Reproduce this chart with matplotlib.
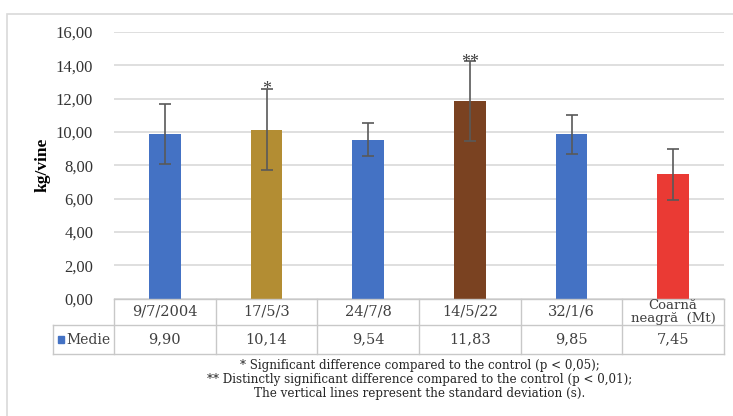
import numpy as np
import matplotlib
matplotlib.use("Agg")
import matplotlib.pyplot as plt
from matplotlib.patches import Rectangle

# data
categories = ["9/7/2004", "17/5/3", "24/7/8", "14/5/22", "32/1/6", "Coarnă\nneagră  (Mt)"]
means = [9.90, 10.14, 9.54, 11.83, 9.85, 7.45]
value_labels = ["9,90", "10,14", "9,54", "11,83", "9,85", "7,45"]
std_dev = [1.8, 2.45, 1.0, 2.4, 1.15, 1.55]
stars = ["", "*", "", "**", "", ""]
bar_colors = ["#4472C4", "#B38D33", "#4472C4", "#7A4221", "#4472C4", "#EA3A34"]
yticks = np.arange(0, 17, 2)

fig = plt.figure(figsize=(7.33, 4.16), dpi=100)
ax = fig.add_axes([114 / 733, 1 - 298.5 / 416, 610 / 733, 266.5 / 416])

x = np.arange(len(categories))
ax.bar(x, means, width=0.31, color=bar_colors, zorder=2)
ax.errorbar(x, means, yerr=std_dev, fmt="none", ecolor="#595959",
            elinewidth=1.2, capsize=4, capthick=1.2, zorder=3)
for i, s in enumerate(stars):
    if s:
        ax.text(x[i], means[i] + std_dev[i] - 0.05, s, ha="center", va="center",
                fontsize=13, color="#404040", family="Liberation Serif", zorder=4)

ax.set_xlim(-0.5, len(categories) - 0.5)
ax.set_ylim(0, 16)
ax.set_yticks(yticks)
ax.set_yticklabels(["{:.2f}".format(v).replace(".", ",") for v in yticks],
                   family="Liberation Serif", fontsize=12, color="#333333")
ax.tick_params(axis="y", length=0, pad=15)
ax.set_xticks([])
ax.grid(axis="y", color="#D9D9D9", linewidth=1.2, zorder=0)
for sp in ax.spines.values():
    sp.set_visible(False)
ax.set_ylabel("kg/vine", family="Liberation Serif", fontweight="bold",
              fontsize=12.5, labelpad=4)

# data table under the plot
lc = "#C8C8C8"
tr = ax.get_xaxis_transform()
r1 = -(325 - 298.5) / 266.5
r2 = -(354 - 298.5) / 266.5
leg_left = -0.5 - 61 / 101.67
ax.plot([-0.5, 5.5], [0, 0], color=lc, lw=1, transform=tr, clip_on=False)
ax.plot([leg_left, 5.5], [r1, r1], color=lc, lw=1, transform=tr, clip_on=False)
ax.plot([leg_left, 5.5], [r2, r2], color=lc, lw=1, transform=tr, clip_on=False)
ax.plot([leg_left, leg_left], [r1, r2], color=lc, lw=1, transform=tr, clip_on=False)
for b in np.arange(-0.5, 6, 1.0):
    ax.plot([b, b], [0, r2], color=lc, lw=1, transform=tr, clip_on=False)
for i, c in enumerate(categories):
    fs = 9.5 if "\n" in c else 10.5
    ax.text(x[i], r1 / 2, c, ha="center", va="center", transform=tr,
            family="DejaVu Serif", fontsize=fs, color="#404040",
            linespacing=1.0)
    ax.text(x[i], (r1 + r2) / 2, value_labels[i], ha="center", va="center",
            transform=tr, family="DejaVu Serif", fontsize=10.5, color="#404040")
ax.add_patch(Rectangle((leg_left + 0.05, (r1 + r2) / 2 - 0.012), 0.06, 0.024,
                       transform=tr, color="#4472C4", clip_on=False))
ax.text(leg_left + 0.13, (r1 + r2) / 2, "Medie", ha="left", va="center",
        transform=tr, family="DejaVu Serif", fontsize=10, color="#404040")

# footnote
fig.text(420 / 733, 1 - 380 / 416,
         "* Significant difference compared to the control (p < 0,05);\n"
         "** Distinctly significant difference compared to the control (p < 0,01);\n"
         "The vertical lines represent the standard deviation (s).",
         ha="center", va="center", multialignment="center",
         family="DejaVu Serif", fontsize=8.6, color="#262626", linespacing=1.1)

# outer chart frame
fig.patches.append(Rectangle((7 / 733, -0.1), 1.0, 1 - 14 / 416 + 0.1,
                             transform=fig.transFigure, fill=False,
                             edgecolor="#D9D9D9", lw=1.2))

fig.savefig("out.png", dpi=100)
